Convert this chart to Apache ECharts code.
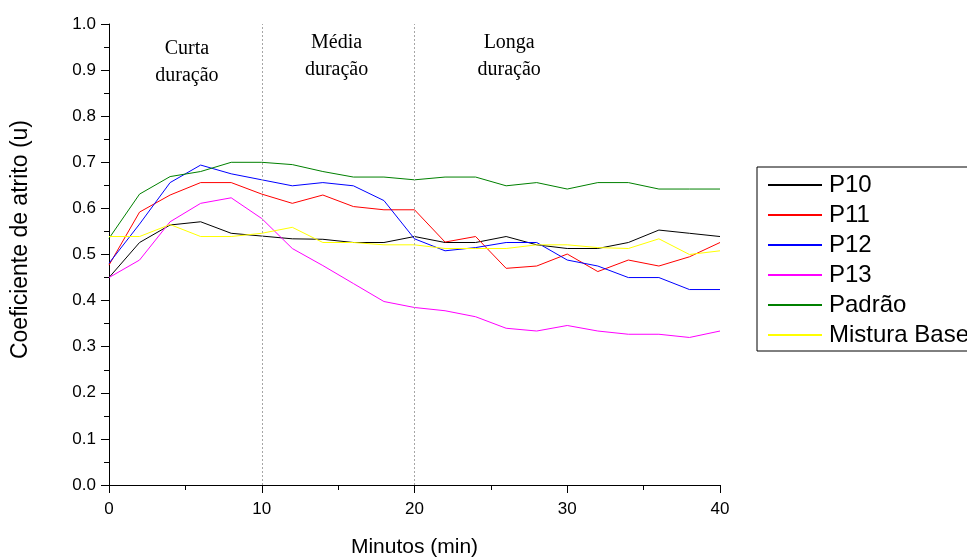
<!DOCTYPE html>
<html>
<head>
<meta charset="utf-8">
<script src="https://cdn.jsdelivr.net/npm/echarts@6/dist/echarts.min.js"></script>
<style>
  html, body { margin: 0; padding: 0; background: #fff; }
  #chart { width: 967px; height: 559px; }
</style>
</head>
<body>
<div id="chart"></div>
<script>
// Tempo de ensaio (min)
const minutes = [0, 2, 4, 6, 8, 10, 12, 14, 16, 18, 20, 22, 24, 26, 28, 30, 32, 34, 36, 38, 40];

// Coeficiente de atrito por mistura
const p10 = [0.450, 0.526, 0.564, 0.571, 0.546, 0.540, 0.534, 0.533, 0.526, 0.526, 0.539, 0.526, 0.526, 0.539, 0.521, 0.513, 0.513, 0.526, 0.553, 0.546, 0.539];
const p11 = [0.477, 0.592, 0.629, 0.656, 0.656, 0.631, 0.611, 0.629, 0.604, 0.597, 0.597, 0.527, 0.539, 0.470, 0.475, 0.501, 0.463, 0.488, 0.475, 0.495, 0.526];
const p12 = [0.481, 0.566, 0.656, 0.694, 0.675, 0.662, 0.649, 0.656, 0.649, 0.617, 0.534, 0.508, 0.515, 0.526, 0.526, 0.488, 0.475, 0.450, 0.450, 0.424, 0.424];
const p13 = [0.450, 0.488, 0.571, 0.611, 0.623, 0.578, 0.513, 0.476, 0.437, 0.398, 0.385, 0.378, 0.365, 0.340, 0.334, 0.346, 0.334, 0.327, 0.327, 0.320, 0.334];
const padrao = [0.535, 0.631, 0.669, 0.680, 0.700, 0.700, 0.695, 0.680, 0.668, 0.668, 0.662, 0.668, 0.668, 0.649, 0.656, 0.642, 0.656, 0.656, 0.642, 0.642, 0.642];
const misturaBase = [0.539, 0.539, 0.565, 0.539, 0.539, 0.546, 0.559, 0.526, 0.526, 0.521, 0.521, 0.513, 0.513, 0.513, 0.521, 0.521, 0.515, 0.513, 0.534, 0.500, 0.508];

const seriesNames = ['P10', 'P11', 'P12', 'P13', 'Padrão', 'Mistura Base'];
const seriesValues = [p10, p11, p12, p13, padrao, misturaBase];
const seriesColors = ['#000000', '#ff0000', '#0000ff', '#ff00ff', '#008000', '#ffff00'];

// Limites entre as fases do ensaio
const phaseBounds = [10, 20];
// Rótulos das fases: [minuto, coeficiente, texto]
const phaseLabels = [
  [5.1, 0.918, 'Curta\nduração'],
  [14.9, 0.929, 'Média\nduração'],
  [26.2, 0.929, 'Longa\nduração']
];

const chart = echarts.init(document.getElementById('chart'), null, { renderer: 'canvas' });

const series = seriesNames.map((name, i) => ({
  name: name,
  type: 'line',
  data: minutes.map((m, k) => [m, seriesValues[i][k]]),
  symbol: 'none',
  showSymbol: false,
  lineStyle: { color: seriesColors[i], width: 1 },
  itemStyle: { color: seriesColors[i] },
  emphasis: { disabled: true },
  animation: false,
  z: 3
}));

// Linhas pontilhadas e rótulos das fases
series.push({
  name: 'fases',
  type: 'line',
  data: [],
  silent: true,
  animation: false,
  markLine: {
    symbol: 'none',
    silent: true,
    label: { show: false },
    lineStyle: { color: '#a6a6a6', type: [2, 2], width: 1 },
    data: phaseBounds.map(v => ({ xAxis: v }))
  },
  markPoint: {
    symbol: 'circle',
    symbolSize: 0,
    silent: true,
    label: {
      show: true,
      position: 'inside',
      color: '#000',
      fontFamily: '"Liberation Serif", "Times New Roman", serif',
      fontSize: 20,
      lineHeight: 27,
      align: 'center',
      verticalAlign: 'middle',
      formatter: p => p.data.text
    },
    data: phaseLabels.map(d => ({ coord: [d[0], d[1]], text: d[2] }))
  }
});

const axisFont = 'Arial, "Liberation Sans", sans-serif';

chart.setOption({
  animation: false,
  backgroundColor: '#ffffff',
  grid: { left: 109, right: 247, top: 24, bottom: 74, containLabel: false, outerBoundsMode: 'none' },
  legend: {
    orient: 'vertical',
    left: 757,
    top: 167,
    padding: [6, 80, 4, 11],
    itemGap: 6,
    itemWidth: 54,
    itemHeight: 2,
    icon: 'rect',
    borderColor: '#000',
    borderWidth: 1,
    borderRadius: 0,
    data: seriesNames,
    textStyle: { fontFamily: axisFont, fontSize: 24, color: '#000', padding: [0, 0, 0, 2] },
    selectedMode: false
  },
  xAxis: {
    type: 'value',
    min: 0,
    max: 40,
    interval: 10,
    name: 'Minutos (min)',
    nameLocation: 'middle',
    nameGap: 52,
    nameTextStyle: { fontFamily: axisFont, fontSize: 21, color: '#000' },
    axisLine: { show: true, onZero: false, lineStyle: { color: '#000', width: 1 } },
    axisTick: { show: true, length: 8, lineStyle: { color: '#000' } },
    minorTick: { show: true, splitNumber: 2, length: 5, lineStyle: { color: '#000' } },
    splitLine: { show: false },
    axisLabel: { fontFamily: axisFont, fontSize: 17, color: '#000', margin: 16, formatter: v => String(v) }
  },
  yAxis: {
    type: 'value',
    min: 0,
    max: 1,
    interval: 0.1,
    axisLine: { show: true, onZero: false, lineStyle: { color: '#000', width: 1 } },
    axisTick: { show: true, length: 8, lineStyle: { color: '#000' } },
    minorTick: { show: true, splitNumber: 2, length: 5, lineStyle: { color: '#000' } },
    splitLine: { show: false },
    axisLabel: { fontFamily: axisFont, fontSize: 17, color: '#000', margin: 13, formatter: v => v.toFixed(1) }
  },
  graphic: [{
    type: 'text',
    left: 9,
    top: 120,
    rotation: Math.PI / 2,
    style: {
      text: 'Coeficiente de atrito (u)',
      fontFamily: axisFont,
      fontSize: 23,
      fill: '#000'
    }
  }],
  series: series
});
</script>
</body>
</html>
